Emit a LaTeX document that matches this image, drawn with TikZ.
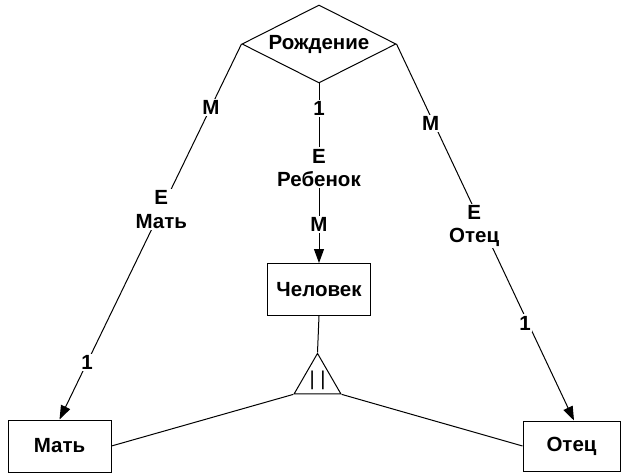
\documentclass[tikz,border=0pt]{standalone}
\usepackage{fontspec}
\setmainfont{Liberation Sans}
\usetikzlibrary{shapes.geometric,arrows.meta}

\begin{document}
\begin{tikzpicture}[x=1pt, y=-1pt, line width=1pt, node distance=245.5pt,
    every node/.style={font=\fontsize{20.5}{23.5}\selectfont\bfseries}]
    \tikzstyle{entity} = [rectangle, draw, minimum width=103pt, minimum height=52pt, text centered]
    \tikzstyle{relation} = [diamond, draw, aspect=2, minimum width=154pt, minimum height=78pt, inner sep=0pt]
    \tikzstyle{subtype} = [regular polygon, regular polygon sides=3, draw, minimum size=54pt, inner sep=0pt, font=\fontsize{20}{20}\selectfont]
    \tikzstyle{card} = [fill=white, inner sep=1.5pt, align=center]
    \tikzstyle{link} = [-{Triangle[length=14pt, width=10pt]}]

    \useasboundingbox (0,0) rectangle (621,473);

    % Relationship
    \node [relation] (birth) at (319,44) {Рождение};

    % Entities
    \node [entity, below of=birth] (human) {Человек};
    \node [entity] (mother) at (59.5,446) {Мать};
    \node [entity, minimum width=97pt, minimum height=50pt] (father) at (571.5,446) {Отец};

    % Subtype
    \node [subtype] (sub) at (317.5,380.4) {| |};

    % Connections
    \draw [link] (birth.west) -- node[card, pos=0.168] {M} node[card, pos=0.441] {E\\Мать} node[card, pos=0.848] {1} (mother.north);
    \draw [link] (birth.south) -- node[card, pos=0.14] {1} node[card, pos=0.47] {E\\Ребенок} node[card, pos=0.785] {M} (human.north);
    \draw [link] (birth.east) -- node[card, pos=0.21, xshift=-3pt] {M} node[card, pos=0.483, xshift=-8pt] {E\\Отец} node[card, pos=0.741, xshift=-3pt] {1} ([xshift=2.5pt]father.north);

    \draw (human.south) -- (sub.corner 1);
    \draw (sub.corner 2) -- (mother.east);
    \draw (sub.corner 3) -- (father.west);
\end{tikzpicture}
\end{document}
